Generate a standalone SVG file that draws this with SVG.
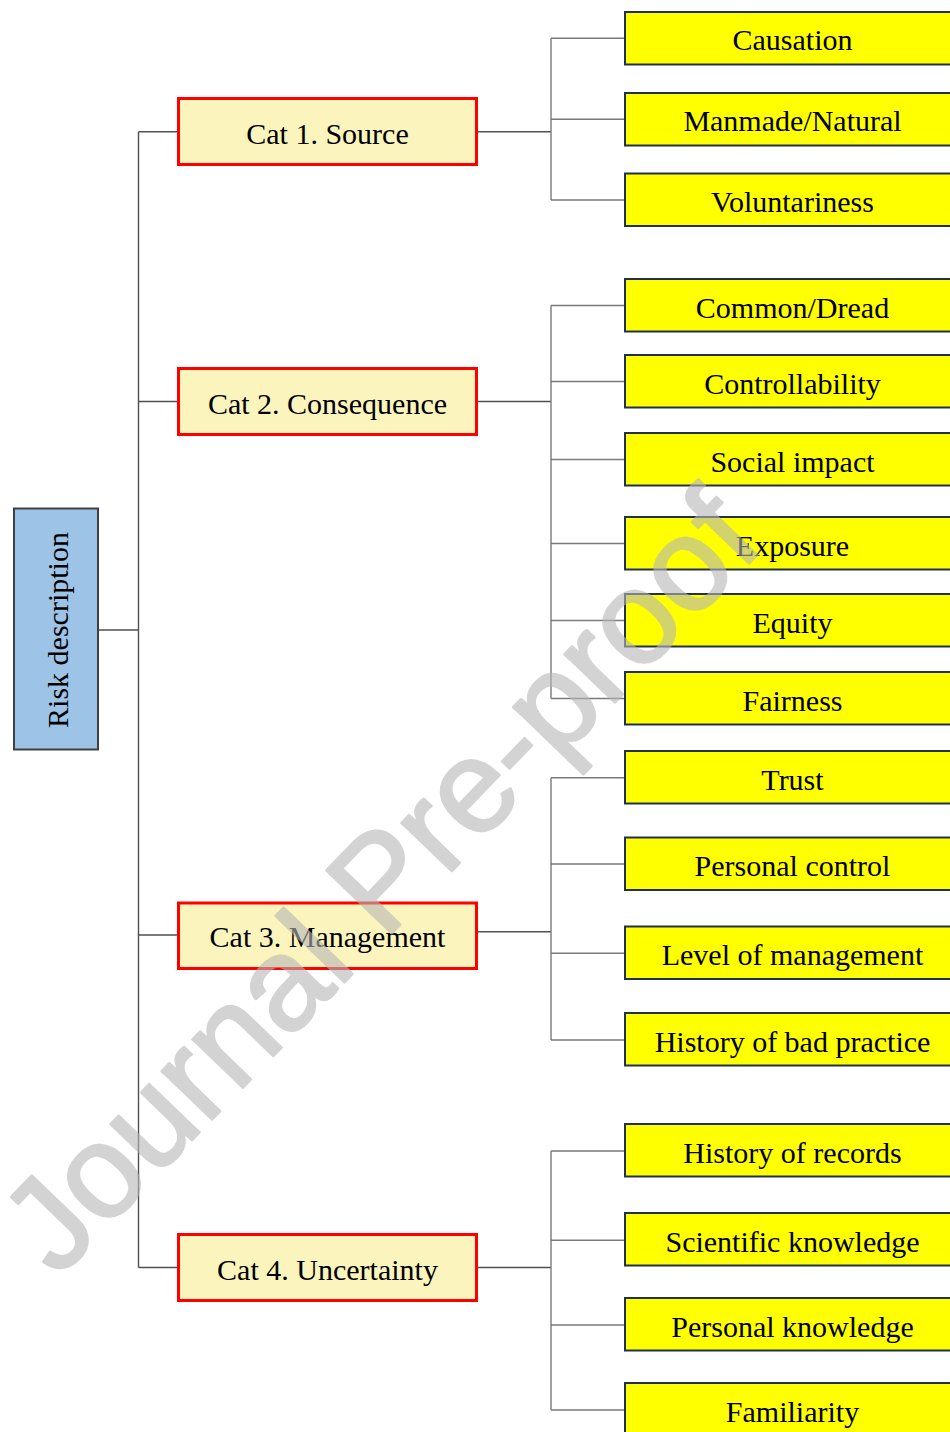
<svg xmlns="http://www.w3.org/2000/svg" width="950" height="1432" viewBox="0 0 950 1432">
<style>
.t{font-family:"Liberation Serif","Times New Roman",serif;font-size:30px;fill:#000;text-anchor:middle}
.cat{fill:#FBF5BD;stroke:#FF0000;stroke-width:3}
.leaf{fill:#FFFF00;stroke:#1F3050;stroke-width:2}
.root{fill:#9DC3E6;stroke:#404040;stroke-width:2}
.c1{stroke:#505050;stroke-width:1.4;fill:none}
.c2{stroke:#7a7a7a;stroke-width:1.4;fill:none}
.wm{font-family:"Liberation Sans",Arial,sans-serif;font-size:132px;fill:#b7b7b7;stroke:#b7b7b7;stroke-width:2.5;stroke-linejoin:round}
</style>
<rect width="950" height="1432" fill="#fff"/>
<g id="connectors">
<path class="c1" d="M99 630H138.5M138.5 131.7V1267.5M138.5 131.7H178M138.5 401.5H178M138.5 935H178M138.5 1267.5H178"/>
<path class="c1" d="M478 131.7H551M478 401.5H551M478 931.7H551M478 1267.5H551"/>
<path class="c2" d="M551 38.3V200M551 38.3H624M551 119.3H624M551 200H624"/>
<path class="c2" d="M551 305.5V698.5M551 305.5H624M551 381.5H624M551 459.5H624M551 543.5H624M551 620.5H624M551 698.5H624"/>
<path class="c2" d="M551 777.7V1040M551 777.7H624M551 864H624M551 953.3H624M551 1040H624"/>
<path class="c2" d="M551 1151V1410M551 1151H624M551 1240.3H624M551 1325H624M551 1410H624"/>
</g>
<g id="root"><rect class="root" x="14" y="508.5" width="84" height="241"/><text class="t" transform="translate(68 630) rotate(-90)">Risk description</text></g>
<g id="cat1"><rect class="cat" x="178.5" y="98.5" width="298" height="66"/><text class="t" x="327.5" y="143.5">Cat 1. Source</text></g>
<g id="cat2"><rect class="cat" x="178.5" y="368.5" width="298" height="66"/><text class="t" x="327.5" y="413.5">Cat 2. Consequence</text></g>
<g id="cat3"><rect class="cat" x="178.5" y="903" width="298" height="65.5"/><text class="t" x="327.5" y="947">Cat 3. Management</text></g>
<g id="cat4"><rect class="cat" x="178.5" y="1234.5" width="298" height="66"/><text class="t" x="327.5" y="1279.5">Cat 4. Uncertainty</text></g>
<g id="l1"><rect class="leaf" x="625" y="12" width="340" height="52.5"/><text class="t" x="792.5" y="50">Causation</text></g>
<g id="l2"><rect class="leaf" x="625" y="93" width="340" height="52.5"/><text class="t" x="792.5" y="131">Manmade/Natural</text></g>
<g id="l3"><rect class="leaf" x="625" y="173.5" width="340" height="52.5"/><text class="t" x="792.5" y="212">Voluntariness</text></g>
<g id="l4"><rect class="leaf" x="625" y="279" width="340" height="52.5"/><text class="t" x="792.5" y="317.5">Common/Dread</text></g>
<g id="l5"><rect class="leaf" x="625" y="355" width="340" height="52.5"/><text class="t" x="792.5" y="393.5">Controllability</text></g>
<g id="l6"><rect class="leaf" x="625" y="433" width="340" height="52.5"/><text class="t" x="792.5" y="471.5">Social impact</text></g>
<g id="l7"><rect class="leaf" x="625" y="517" width="340" height="52.5"/><text class="t" x="792.5" y="555.5">Exposure</text></g>
<g id="l8"><rect class="leaf" x="625" y="594" width="340" height="52.5"/><text class="t" x="792.5" y="632.5">Equity</text></g>
<g id="l9"><rect class="leaf" x="625" y="672" width="340" height="52.5"/><text class="t" x="792.5" y="710.5">Fairness</text></g>
<g id="l10"><rect class="leaf" x="625" y="751" width="340" height="52.5"/><text class="t" x="792.5" y="789.5">Trust</text></g>
<g id="l11"><rect class="leaf" x="625" y="837.5" width="340" height="52.5"/><text class="t" x="792.5" y="876">Personal control</text></g>
<g id="l12"><rect class="leaf" x="625" y="926.5" width="340" height="52.5"/><text class="t" x="792.5" y="965">Level of management</text></g>
<g id="l13"><rect class="leaf" x="625" y="1013" width="340" height="52.5"/><text class="t" x="792.5" y="1051.5">History of bad practice</text></g>
<g id="l14"><rect class="leaf" x="625" y="1124" width="340" height="52.5"/><text class="t" x="792.5" y="1162.5">History of records</text></g>
<g id="l15"><rect class="leaf" x="625" y="1213" width="340" height="52.5"/><text class="t" x="792.5" y="1251.5">Scientific knowledge</text></g>
<g id="l16"><rect class="leaf" x="625" y="1298" width="340" height="52.5"/><text class="t" x="792.5" y="1336.5">Personal knowledge</text></g>
<g id="l17"><rect class="leaf" x="625" y="1383" width="340" height="52.5"/><text class="t" x="792.5" y="1421.5">Familiarity</text></g>
<g id="watermark" opacity="0.6"><text class="wm" transform="translate(58 1279) rotate(-46)">Journal Pre-proof</text></g>
</svg>
